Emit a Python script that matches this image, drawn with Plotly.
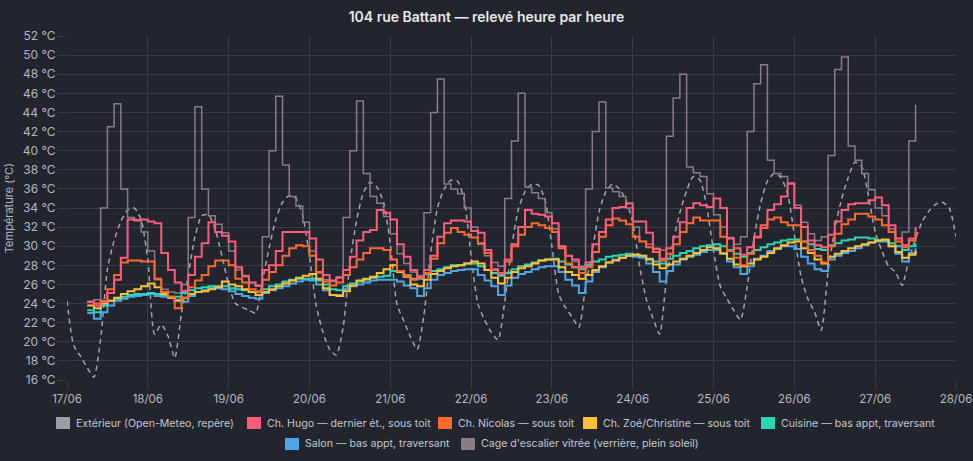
import pandas as pd
import plotly.graph_objects as go

# ---------------- data (2-hour resolution) ----------------
EXT_START = "2025-06-17 00:00"   # exterior series start
IN_START = "2025-06-17 06:00"    # indoor / stairwell series start
STEP = "2h"

exterieur = [
    24.3, 19.6, 18.5, 17.3, 16.3, 20.3, 27.6, 30.6, 32.6, 33.8, 34.0, 32.8,
    28.6, 20.8, 21.8, 20.6, 18.3, 23.0, 27.0, 31.0, 33.2, 33.3, 31.8, 29.0,
    26.0, 24.0, 23.6, 23.3, 23.0, 26.3, 29.8, 32.8, 34.6, 35.3, 35.0, 33.2,
    29.0, 23.8, 21.0, 19.2, 18.6, 21.5, 28.2, 32.7, 35.6, 36.7, 36.2, 34.6,
    30.3, 23.9, 22.2, 20.5, 19.2, 22.8, 29.3, 34.0, 36.0, 36.9, 36.8, 34.8,
    29.0, 24.0, 22.3, 21.0, 20.2, 24.2, 29.8, 33.8, 35.7, 36.5, 36.4, 34.8,
    30.0, 25.0, 23.6, 22.6, 21.5, 25.8, 29.5, 33.6, 35.7, 36.5, 36.0, 34.8,
    32.5, 28.0, 24.5, 22.5, 20.8, 26.5, 30.5, 33.5, 35.8, 37.3, 36.9, 34.1,
    29.5, 25.8, 24.5, 23.3, 22.3, 25.8, 30.8, 34.5, 36.8, 37.6, 37.2, 35.5,
    31.2, 26.8, 24.5, 23.1, 21.2, 27.3, 31.8, 34.9, 37.2, 38.8, 38.3, 35.3,
    31.5, 29.5, 27.9, 27.3, 25.9, 28.6, 30.8, 32.6, 33.7, 34.4, 34.6, 34.0,
    31.0,
]

hugo = [
    24.2, 23.8, 24.2, 25.1, 26.5, 28.8, 32.8, 32.7, 32.8,
    32.6, 32.4, 29.3, 27.5, 26.2, 25.3, 27.0, 28.9, 30.3, 32.5, 31.5, 31.1,
    30.5, 27.8, 26.9, 26.2, 25.9, 27.5, 28.0, 29.5, 31.5, 31.5, 31.5, 31.5,
    30.8, 28.6, 27.0, 26.4, 26.7, 27.5, 28.9, 30.6, 31.5, 31.7, 33.8, 33.5,
    32.8, 30.2, 28.9, 27.5, 26.8, 27.5, 29.0, 31.0, 32.4, 32.7, 32.7, 32.6,
    31.6, 31.4, 29.6, 27.6, 27.1, 28.6, 30.2, 32.0, 33.8, 33.4, 33.3, 33.1,
    32.4, 30.0, 29.0, 28.6, 27.8, 28.3, 30.2, 31.5, 32.8, 34.0, 34.1, 34.5,
    32.6, 32.6, 31.4, 29.7, 28.7, 29.8, 31.0, 32.5, 34.0, 34.5, 34.3, 34.1,
    35.0, 34.0, 30.8, 29.8, 29.1, 29.9, 31.0, 32.2, 33.8, 34.4, 35.2, 36.6,
    34.0, 32.0, 30.6, 30.1, 29.9, 31.2, 32.6, 33.8, 34.4, 34.5, 34.5, 34.8,
    35.1, 34.3, 32.2, 30.8, 30.1, 30.8, 32.0,
]

nicolas = [
    24.2, 24.0, 24.3, 25.5, 27.0, 28.3, 28.5, 28.5, 28.4,
    28.4, 26.6, 25.2, 24.7, 23.5, 24.6, 25.7, 26.4, 27.0, 27.9, 28.5, 28.5,
    28.0, 26.6, 26.2, 25.5, 25.3, 26.5, 27.3, 28.0, 29.0, 29.8, 30.1, 30.0,
    29.0, 27.3, 26.3, 25.9, 26.2, 27.0, 27.8, 28.6, 29.3, 29.8, 29.8, 29.6,
    28.6, 27.4, 26.9, 26.5, 26.7, 27.2, 28.7, 30.3, 31.4, 31.9, 31.5, 31.2,
    30.9, 30.3, 29.3, 27.5, 27.2, 28.4, 30.0, 31.2, 32.0, 32.4, 32.2, 31.9,
    31.5, 29.8, 28.2, 27.8, 27.2, 27.8, 29.4, 31.0, 32.2, 32.9, 32.7, 32.3,
    31.0, 30.5, 29.9, 29.4, 28.5, 29.2, 30.2, 31.5, 32.4, 33.0, 32.7, 32.7,
    32.7, 31.0, 29.5, 28.8, 28.0, 29.2, 30.9, 31.9, 32.8, 33.0, 32.5, 32.2,
    32.2, 30.5, 29.6, 29.0, 28.3, 30.0, 31.3, 32.3, 32.8, 33.4, 33.4, 33.1,
    32.8, 32.2, 31.5, 30.5, 29.9, 30.6, 31.5,
]

zoe = [
    23.8, 23.5, 24.0, 24.3, 24.6, 25.0, 25.3, 25.5, 25.8,
    26.1, 25.7, 25.0, 24.6, 24.3, 24.6, 25.0, 25.2, 25.3, 25.5, 25.7, 26.3,
    26.0, 25.8, 25.5, 25.2, 24.9, 25.2, 25.5, 25.8, 26.1, 26.4, 26.7, 26.9,
    27.1, 26.6, 25.6, 24.9, 24.8, 25.3, 25.9, 26.4, 26.6, 26.8, 27.2, 27.6,
    28.0, 27.3, 26.8, 26.0, 25.8, 26.5, 27.1, 27.4, 27.7, 27.9, 28.0, 28.2,
    28.4, 28.2, 27.5, 26.7, 26.1, 26.7, 27.3, 27.7, 27.9, 28.2, 28.5, 28.6,
    28.6, 27.8, 27.3, 27.0, 26.6, 27.0, 27.5, 27.9, 28.3, 28.5, 28.8, 29.0,
    29.1, 29.0, 28.6, 28.1, 27.7, 28.1, 28.4, 28.7, 29.0, 29.3, 29.6, 29.9,
    29.8, 29.2, 28.7, 28.1, 27.9, 28.2, 28.6, 28.9, 29.3, 29.8, 30.1, 30.4,
    30.5, 29.8, 29.3, 28.6, 28.2, 28.9, 29.2, 29.5, 29.8, 30.0, 30.2, 30.4,
    30.6, 30.7, 30.0, 29.4, 28.8, 29.1, 29.5,
]

cuisine = [
    23.3, 23.1, 23.8, 24.3, 24.5, 24.7, 24.9, 25.0, 25.0,
    25.1, 25.0, 24.9, 24.7, 24.7, 25.1, 25.4, 25.6, 25.7, 25.8, 25.8, 25.8,
    25.6, 25.5, 25.4, 25.2, 25.2, 25.5, 25.8, 26.0, 26.3, 26.5, 26.6, 26.6,
    26.6, 26.4, 26.0, 25.5, 25.4, 25.8, 26.1, 26.3, 26.5, 26.7, 26.8, 26.9,
    27.4, 27.4, 27.0, 26.6, 26.6, 27.1, 27.4, 27.6, 27.8, 28.0, 28.0, 28.2,
    28.2, 27.9, 27.5, 27.2, 26.9, 27.2, 27.6, 27.9, 28.1, 28.3, 28.5, 28.6,
    28.7, 28.4, 28.1, 27.8, 27.6, 28.0, 28.4, 28.6, 28.9, 29.0, 29.1, 29.2,
    29.1, 29.0, 28.7, 28.4, 28.2, 28.7, 29.0, 29.3, 29.5, 29.8, 30.0, 30.1,
    30.2, 30.0, 29.6, 29.2, 28.9, 29.3, 29.6, 29.9, 30.2, 30.4, 30.6, 30.7,
    30.7, 30.5, 30.2, 29.7, 29.6, 30.1, 30.3, 30.6, 30.7, 30.9, 30.9, 30.8,
    30.6, 30.6, 30.3, 30.0, 29.6, 30.0, 30.3,
]

salon = [
    23.0, 22.4, 23.1, 23.8, 24.3, 24.5, 24.7, 24.8, 24.9,
    25.0, 24.8, 24.7, 24.6, 24.4, 24.2, 24.8, 25.2, 25.4, 25.6, 25.6, 25.5,
    25.3, 25.0, 24.8, 24.6, 24.5, 25.1, 25.4, 25.6, 25.8, 26.1, 26.3, 26.5,
    26.4, 26.0, 25.4, 24.9, 24.9, 25.5, 25.8, 26.0, 26.2, 26.4, 26.5, 26.5,
    26.5, 26.3, 25.9, 25.6, 24.8, 25.6, 26.5, 27.0, 27.2, 27.4, 27.5, 27.6,
    27.6, 27.0, 26.4, 25.8, 24.9, 25.9, 26.7, 27.1, 27.3, 27.6, 27.8, 27.9,
    27.9, 27.3, 26.5, 25.9, 25.1, 26.3, 27.3, 27.8, 28.3, 28.6, 28.8, 29.0,
    28.9, 28.8, 28.2, 27.3, 26.3, 27.4, 28.1, 28.6, 28.9, 29.1, 29.4, 29.6,
    29.6, 29.3, 28.4, 27.8, 27.1, 27.9, 28.7, 29.0, 29.5, 29.7, 30.0, 30.0,
    29.7, 28.9, 28.2, 27.6, 27.4, 28.6, 29.0, 29.3, 29.5, 29.8, 30.1, 30.4,
    30.5, 30.5, 30.0, 29.2, 28.4, 29.3, 29.8,
]

cage = [
    24.2, 24.4, 34.0, 42.5, 44.9, 36.0, 33.0, 32.8, 31.5,
    29.5, 26.5, 25.5, 25.2, 25.1, 26.0, 33.0, 44.6, 36.0, 33.2, 32.3, 31.4,
    29.5, 27.5, 26.8, 26.2, 25.8, 31.0, 40.0, 45.7, 38.5, 35.2, 34.2, 32.5,
    29.5, 27.2, 26.5, 26.3, 26.8, 33.0, 40.0, 45.2, 37.6, 35.2, 34.5, 33.1,
    31.3, 29.2, 28.2, 27.3, 26.9, 33.5, 44.0, 47.5, 36.5, 36.0, 35.5, 34.0,
    32.0, 30.2, 29.0, 28.3, 27.9, 35.0, 41.0, 46.0, 36.2, 35.6, 35.0, 33.5,
    31.8, 30.0, 29.0, 28.4, 27.9, 36.0, 42.0, 45.1, 36.1, 35.7, 35.2, 34.0,
    32.0, 30.5, 30.2, 29.8, 29.6, 41.5, 45.5, 48.0, 38.3, 37.7, 37.3, 35.5,
    33.3, 32.0, 30.9, 30.2, 31.0, 42.0, 47.0, 49.0, 39.0, 37.6, 37.3, 36.5,
    34.3, 32.5, 31.3, 30.6, 31.0, 39.5, 48.5, 49.8, 40.5, 39.0, 37.6, 35.9,
    34.0, 33.2, 31.8, 30.8, 31.5, 41.0, 44.8,
]

names = {
    "ext": "Extérieur (Open-Meteo, repère)",
    "hugo": "Ch. Hugo — dernier ét., sous toit",
    "nicolas": "Ch. Nicolas — sous toit",
    "zoe": "Ch. Zoé/Christine — sous toit",
    "cuisine": "Cuisine — bas appt, traversant",
    "salon": "Salon — bas appt, traversant",
    "cage": "Cage d'escalier vitrée (verrière, plein soleil)",
}
colors = {
    "ext": "rgba(192,196,204,0.8)",
    "hugo": "#ff5c7c",
    "nicolas": "#ff6a2c",
    "zoe": "#fbc03a",
    "cuisine": "#2dd4b2",
    "salon": "#4fa6e6",
    "cage": "#8c7a85",
}
legend_colors = dict(colors, ext="#9a9ea6")

# ---------------- layout constants ----------------
W, H = 973, 461
ML, MR, MT, MB = 67, 17, 36, 81
PW, PH = W - ML - MR, H - MT - MB
BG = "#22252e"
GRID = "#393c47"
TXT = "#b4b8c1"
FONT = "Inter"

# legend layout (pixel positions of each swatch, two centred rows)
LEG_ROWS = [(423, ["ext", "hugo", "nicolas", "zoe", "cuisine"], [56, 247, 438, 583, 761]),
            (444, ["salon", "cage"], [285, 461])]
SW_W, SW_H, SW_GAP = 14, 12, 5


def px_x(px):
    return (px - ML) / PW


def px_y(py):
    return (H - MB - py) / PH


def times(start, n):
    return pd.date_range(start, periods=n, freq=STEP)


fig = go.Figure()

fig.add_trace(go.Scatter(
    x=times(EXT_START, len(exterieur)), y=exterieur, mode="lines", name=names["ext"],
    line=dict(color=colors["ext"], width=1.5, dash="5px,4px", shape="spline", smoothing=0.6),
    showlegend=False, hoverinfo="skip"))

fig.add_trace(go.Scatter(
    x=times(IN_START, len(cage)), y=cage, mode="lines", name=names["cage"],
    line=dict(color=colors["cage"], width=1.5, shape="hv"),
    showlegend=False, hoverinfo="skip"))

for key, vals in [("salon", salon), ("cuisine", cuisine), ("zoe", zoe),
                  ("nicolas", nicolas), ("hugo", hugo)]:
    fig.add_trace(go.Scatter(
        x=times(IN_START, len(vals)), y=vals, mode="lines", name=names[key],
        line=dict(color=colors[key], width=2, shape="hv"),
        showlegend=False, hoverinfo="skip"))

# legend drawn as swatches + text (Chart.js style boxes)
shapes, annotations = [], []
for yc, row_keys, xs in LEG_ROWS:
    for key, x0 in zip(row_keys, xs):
        shapes.append(dict(
            type="rect", xref="paper", yref="paper", layer="above",
            x0=px_x(x0), x1=px_x(x0 + SW_W),
            y0=px_y(yc + SW_H / 2), y1=px_y(yc - SW_H / 2),
            fillcolor=legend_colors[key], line=dict(width=0)))
        annotations.append(dict(
            xref="paper", yref="paper", x=px_x(x0 + SW_W + SW_GAP - 1), y=px_y(yc),
            xanchor="left", yanchor="middle", showarrow=False, text=names[key],
            font=dict(family=FONT, size=10.6, color="#c4c7ce")))

fig.update_layout(
    width=W, height=H,
    paper_bgcolor=BG, plot_bgcolor=BG,
    margin=dict(l=ML, r=MR, t=MT, b=MB),
    showlegend=False,
    shapes=shapes, annotations=annotations,
    title=dict(text="104 rue Battant — relevé heure par heure",
               x=0.5, xanchor="center", y=1 - 17 / H, yanchor="middle",
               font=dict(family=FONT, size=14, color="#e6e7ea", weight=600)),
    xaxis=dict(
        type="date", range=["2025-06-17", "2025-06-28"],
        dtick=86400000, tickformat="%d/%m", automargin=False,
        showgrid=True, gridcolor=GRID, gridwidth=1,
        ticks="outside", ticklen=8, tickcolor=GRID,
        showline=False, zeroline=False,
        tickfont=dict(family=FONT, size=11.5, color=TXT),
    ),
    yaxis=dict(
        range=[16, 52], dtick=2, ticksuffix=" °C", automargin=False,
        showgrid=True, gridcolor=GRID, gridwidth=1,
        ticks="outside", ticklen=8, tickcolor=GRID,
        showline=False, zeroline=False,
        tickfont=dict(family=FONT, size=12, color=TXT),
        title=dict(text="Température (°C)", standoff=6,
                   font=dict(family=FONT, size=11, color=TXT)),
    ),
)

fig.write_html("out.html")
